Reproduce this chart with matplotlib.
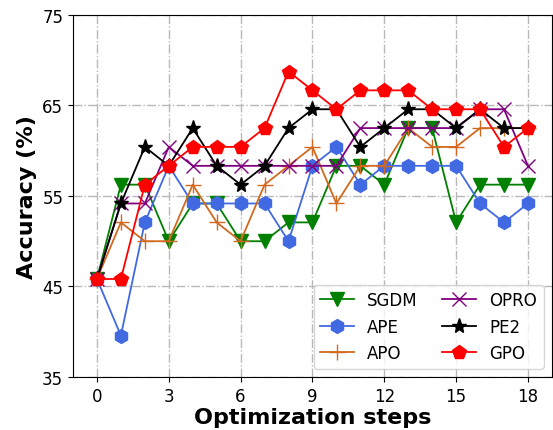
import numpy as np
import matplotlib
matplotlib.use('Agg')
from matplotlib import pyplot as plt

steps = np.arange(19)

sgdm = [45.83, 56.25, 56.25, 50.0, 54.17, 54.17, 50.0, 50.0, 52.08, 52.08,
        58.33, 58.33, 56.25, 62.5, 62.5, 52.08, 56.25, 56.25, 56.25]
ape = [45.83, 39.58, 52.08, 58.33, 54.17, 54.17, 54.17, 54.17, 50.0, 58.33,
       60.42, 56.25, 58.33, 58.33, 58.33, 58.33, 54.17, 52.08, 54.17]
apo = [45.83, 52.08, 50.0, 50.0, 56.25, 52.08, 50.0, 56.25, 58.33, 60.42,
       54.17, 58.33, 58.33, 62.5, 60.42, 60.42, 62.5, 62.5, 62.5]
opro = [45.83, 54.17, 54.17, 60.42, 58.33, 58.33, 58.33, 58.33, 58.33, 58.33,
        58.33, 62.5, 62.5, 62.5, 62.5, 62.5, 64.58, 64.58, 58.33]
pe2 = [45.83, 54.17, 60.42, 58.33, 62.5, 58.33, 56.25, 58.33, 62.5, 64.58,
       64.58, 60.42, 62.5, 64.58, 64.58, 62.5, 64.58, 62.5, 62.5]
gpo = [45.83, 45.83, 56.25, 58.33, 60.42, 60.42, 60.42, 62.5, 68.75, 66.67,
       64.58, 66.67, 66.67, 66.67, 64.58, 64.58, 64.58, 60.42, 62.5]

series = [
    ('SGDM', sgdm, 'green', 'v', 10),
    ('APE', ape, 'royalblue', 'h', 10),
    ('APO', apo, 'chocolate', '+', 11),
    ('OPRO', opro, 'purple', 'x', 10),
    ('PE2', pe2, 'black', '*', 11),
    ('GPO', gpo, 'red', 'p', 10),
]

fig = plt.figure(figsize=(5.53, 4.31), dpi=100)
ax = fig.add_axes([0.132, 0.123, 0.866, 0.840])

for name, vals, color, marker, ms in series:
    ax.plot(steps, vals, color=color, marker=marker, markersize=ms,
            linewidth=1.3, label=name)

ax.set_xlim(-1, 19)
ax.set_ylim(35, 75)
ax.set_xticks(np.arange(0, 19, 3))
ax.set_yticks([35, 45, 55, 65, 75])
ax.tick_params(labelsize=12)
ax.grid(True, linestyle='-.', color='#b8b8b8', linewidth=1.0)
ax.set_xlabel('Optimization steps', fontsize=16, fontweight='bold', labelpad=2)
ax.set_ylabel('Accuracy (%)', fontsize=16, fontweight='bold')
ax.legend(loc='lower right', ncol=2, fontsize=12, columnspacing=1.5)

fig.savefig('out.png', dpi=100)
